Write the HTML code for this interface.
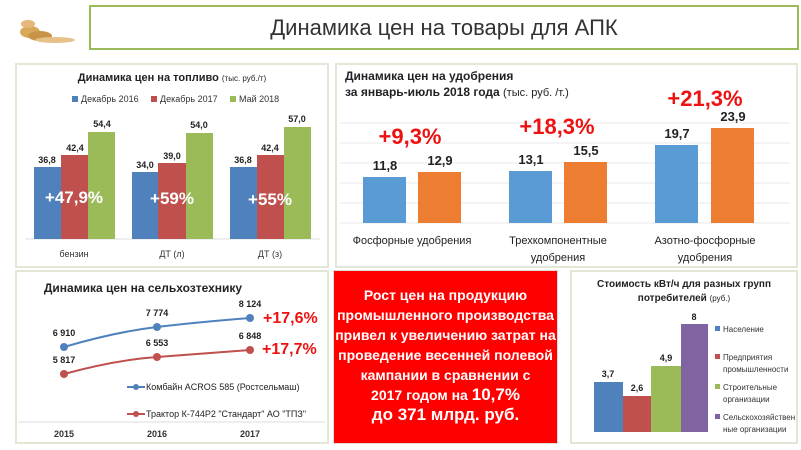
<!DOCTYPE html>
<html><head><meta charset="utf-8"><style>
body{margin:0;width:801px;height:450px;background:#fff;position:relative;overflow:hidden;font-family:"Liberation Sans","DejaVu Sans",sans-serif}
.a{position:absolute}
.p{position:absolute;border:2px solid #e3e8d6;background:#fff;box-sizing:border-box}
</style></head><body>
<svg class="a" style="left:10px;top:10px" width="75" height="40"><g fill="#d9a95a"><ellipse cx="20" cy="22" rx="10" ry="6"/><ellipse cx="30" cy="26" rx="12" ry="5" fill="#c9944a"/><ellipse cx="45" cy="30" rx="20" ry="3" fill="#e6c18a"/><ellipse cx="18" cy="14" rx="7" ry="4" fill="#e3b878"/></g></svg>
<div class="a" style="left:89px;top:5px;width:706px;height:41px;border:2px solid #9bbb59;text-align:center;line-height:41px;font-size:22px;color:#333">Динамика цен на товары для АПК</div>

<div class="p" style="left:15px;top:63px;width:314px;height:205px"></div>
<svg class="a" style="left:15px;top:63px" width="314" height="205" font-family="Liberation Sans,sans-serif">
<text x="157" y="18" text-anchor="middle" font-size="11" font-weight="bold" fill="#222">Динамика цен на топливо <tspan font-size="8" font-weight="normal">(тыс. руб./т)</tspan></text>
<g font-size="9" fill="#333"><rect x="57" y="33" width="6" height="6" fill="#4f81bd"/><text x="66" y="39">Декабрь 2016</text>
<rect x="136" y="33" width="6" height="6" fill="#c0504d"/><text x="145" y="39">Декабрь 2017</text>
<rect x="215" y="33" width="6" height="6" fill="#9bbb59"/><text x="224" y="39">Май 2018</text></g>
<line x1="10" y1="176" x2="305" y2="176" stroke="#ddd"/>
<g>
<rect x="19" y="104" width="27" height="72" fill="#4f81bd"/><rect x="46" y="92" width="27" height="84" fill="#c0504d"/><rect x="73" y="69" width="27" height="107" fill="#9bbb59"/>
<rect x="117" y="109" width="26" height="67" fill="#4f81bd"/><rect x="143" y="100" width="28" height="76" fill="#c0504d"/><rect x="171" y="70" width="27" height="106" fill="#9bbb59"/>
<rect x="215" y="104" width="27" height="72" fill="#4f81bd"/><rect x="242" y="92" width="27" height="84" fill="#c0504d"/><rect x="269" y="64" width="27" height="112" fill="#9bbb59"/>
</g>
<g font-size="9" font-weight="bold" fill="#222" text-anchor="middle">
<text x="32" y="100">36,8</text><text x="60" y="88">42,4</text><text x="87" y="64">54,4</text>
<text x="130" y="105">34,0</text><text x="157" y="96">39,0</text><text x="184" y="65">54,0</text>
<text x="228" y="100">36,8</text><text x="255" y="88">42,4</text><text x="282" y="59">57,0</text>
</g>
<g font-size="17" font-weight="bold" fill="#fff" text-anchor="middle"><text x="59" y="140">+47,9%</text><text x="157" y="141">+59%</text><text x="255" y="142">+55%</text></g>
<g font-size="9" fill="#333" text-anchor="middle"><text x="59" y="194">бензин</text><text x="157" y="194">ДТ (л)</text><text x="255" y="194">ДТ (з)</text></g>
</svg>

<div class="p" style="left:335px;top:63px;width:463px;height:205px"></div>
<svg class="a" style="left:335px;top:63px" width="463" height="205" font-family="Liberation Sans,sans-serif">
<text x="10" y="17" font-size="12" font-weight="bold" fill="#222">Динамика цен на удобрения</text>
<text x="10" y="33" font-size="12" font-weight="bold" fill="#222">за январь-июль 2018 года <tspan font-weight="normal" font-size="11">(тыс. руб. /т.)</tspan></text>
<g stroke="#e8e8e8"><line x1="5" y1="60" x2="455" y2="60"/><line x1="5" y1="80" x2="455" y2="80"/><line x1="5" y1="100" x2="455" y2="100"/><line x1="5" y1="120" x2="455" y2="120"/><line x1="5" y1="140" x2="455" y2="140"/><line x1="5" y1="160" x2="455" y2="160"/></g>
<g fill="#5b9bd5"><rect x="28" y="114" width="43" height="46"/><rect x="174" y="108" width="43" height="52"/><rect x="320" y="82" width="43" height="78"/></g>
<g fill="#ed7d31"><rect x="83" y="109" width="43" height="51"/><rect x="229" y="99" width="43" height="61"/><rect x="376" y="65" width="43" height="95"/></g>
<g font-size="13" font-weight="bold" fill="#222" text-anchor="middle"><text x="50" y="107">11,8</text><text x="105" y="102">12,9</text><text x="196" y="101">13,1</text><text x="251" y="92">15,5</text><text x="342" y="75">19,7</text><text x="398" y="58">23,9</text></g>
<g font-size="22" font-weight="bold" fill="#ee1111" text-anchor="middle"><text x="75" y="81">+9,3%</text><text x="222" y="71">+18,3%</text><text x="370" y="43">+21,3%</text></g>
<g font-size="11" fill="#222" text-anchor="middle"><text x="77" y="181">Фосфорные удобрения</text><text x="223" y="181">Трехкомпонентные</text><text x="223" y="198">удобрения</text><text x="370" y="181">Азотно-фосфорные</text><text x="370" y="198">удобрения</text></g>
</svg>

<div class="p" style="left:15px;top:270px;width:314px;height:174px"></div>
<svg class="a" style="left:15px;top:270px" width="314" height="174" font-family="Liberation Sans,sans-serif">
<text x="128" y="22" text-anchor="middle" font-size="12" font-weight="bold" fill="#222">Динамика цен на сельхозтехнику</text>
<path d="M49 77 Q100 62 142 57 T235 48" fill="none" stroke="#4f81bd" stroke-width="2"/>
<path d="M49 104 Q100 90 142 87 T235 80" fill="none" stroke="#c0504d" stroke-width="2"/>
<g fill="#4f81bd"><circle cx="49" cy="77" r="4"/><circle cx="142" cy="57" r="4"/><circle cx="235" cy="48" r="4"/></g>
<g fill="#c0504d"><circle cx="49" cy="104" r="4"/><circle cx="142" cy="87" r="4"/><circle cx="235" cy="80" r="4"/></g>
<g font-size="9" font-weight="bold" fill="#222" text-anchor="middle"><text x="49" y="66">6 910</text><text x="142" y="46">7 774</text><text x="235" y="37">8 124</text><text x="49" y="93">5 817</text><text x="142" y="76">6 553</text><text x="235" y="69">6 848</text></g>
<g font-size="16" font-weight="bold" fill="#ee1111"><text x="248" y="53">+17,6%</text><text x="247" y="84">+17,7%</text></g>
<line x1="112" y1="117" x2="130" y2="117" stroke="#4f81bd" stroke-width="2"/><circle cx="121" cy="117" r="3" fill="#4f81bd"/>
<line x1="112" y1="144" x2="130" y2="144" stroke="#c0504d" stroke-width="2"/><circle cx="121" cy="144" r="3" fill="#c0504d"/>
<g font-size="9" fill="#222"><text x="131" y="120">Комбайн ACROS 585 (Ростсельмаш)</text><text x="131" y="147">Трактор К-744Р2 "Стандарт" АО "ТПЗ"</text></g>
<line x1="3" y1="152" x2="310" y2="152" stroke="#ddd"/>
<g font-size="9" font-weight="bold" fill="#333" text-anchor="middle"><text x="49" y="167">2015</text><text x="142" y="167">2016</text><text x="235" y="167">2017</text></g>
</svg>

<div class="a" style="left:333px;top:270px;width:225px;height:174px;background:#ff0000;border:1px solid #ddd;box-sizing:border-box;color:#fff;font-weight:bold;text-align:center;font-size:14px;line-height:20px;padding-top:14px">Рост цен на продукцию<br>промышленного производства<br>привел к увеличению затрат на<br>проведение весенней полевой<br>кампании в сравнении с<br>2017 годом на <span style="font-size:17px">10,7%</span><br><span style="font-size:17px">до 371 млрд. руб.</span></div>

<div class="p" style="left:570px;top:270px;width:228px;height:174px"></div>
<svg class="a" style="left:570px;top:270px" width="228" height="174" font-family="Liberation Sans,sans-serif">
<text x="114" y="17" text-anchor="middle" font-size="10" font-weight="bold" fill="#222">Стоимость кВт/ч для разных групп</text>
<text x="114" y="31" text-anchor="middle" font-size="10" font-weight="bold" fill="#222">потребителей <tspan font-weight="normal" font-size="8">(руб.)</tspan></text>
<rect x="24" y="112" width="29" height="50" fill="#4f81bd"/><rect x="53" y="126" width="28" height="36" fill="#c0504d"/><rect x="81" y="96" width="30" height="66" fill="#9bbb59"/><rect x="111" y="54" width="27" height="108" fill="#8064a2"/>
<g font-size="9" font-weight="bold" fill="#222" text-anchor="middle"><text x="38" y="107">3,7</text><text x="67" y="121">2,6</text><text x="96" y="91">4,9</text><text x="124" y="50">8</text></g>
<g font-size="8" fill="#333"><rect x="145" y="56" width="5" height="5" fill="#4f81bd"/><text x="153" y="62">Население</text>
<rect x="145" y="84" width="5" height="5" fill="#c0504d"/><text x="153" y="90">Предприятия</text><text x="153" y="102">промышленности</text>
<rect x="145" y="114" width="5" height="5" fill="#9bbb59"/><text x="153" y="120">Строительные</text><text x="153" y="132">организации</text>
<rect x="145" y="144" width="5" height="5" fill="#8064a2"/><text x="153" y="150">Сельскохозяйствен</text><text x="153" y="162">ные организации</text></g>
</svg>
</body></html>
